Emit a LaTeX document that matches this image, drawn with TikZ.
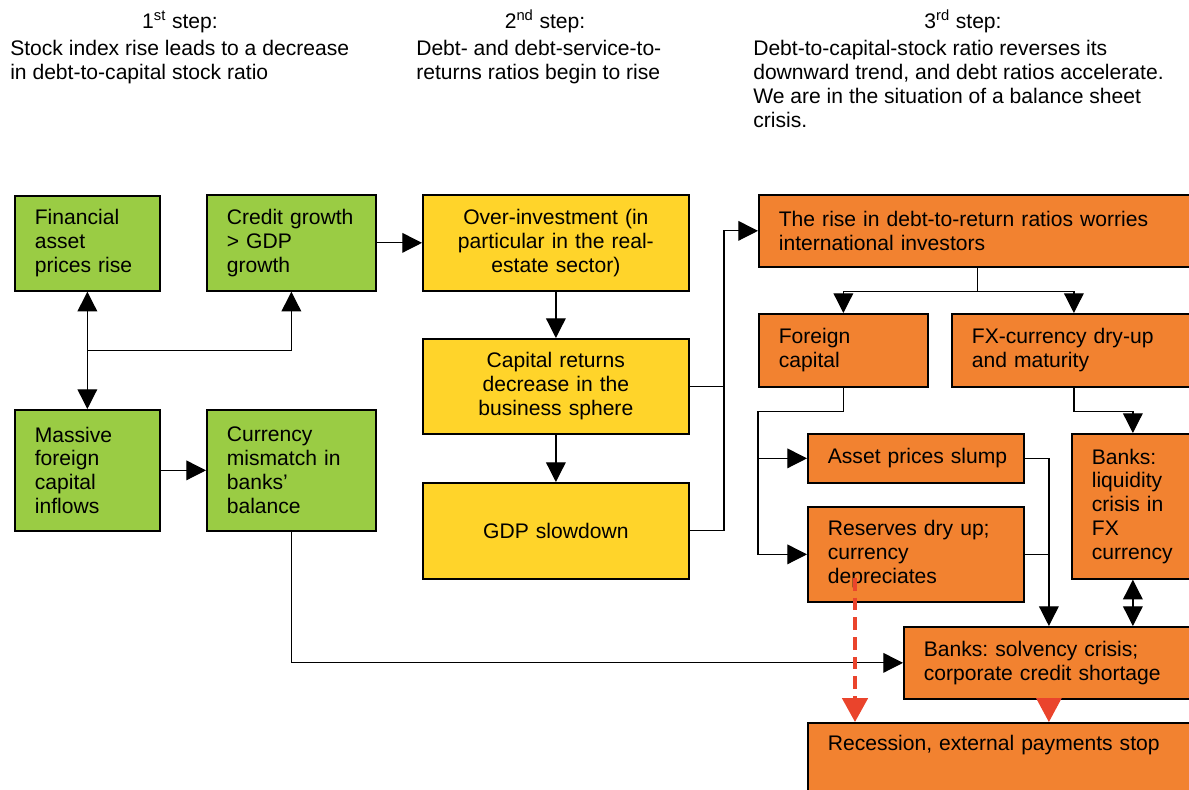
\documentclass[tikz,border=0pt]{standalone}
\usepackage{fontspec}
\setmainfont{Liberation Sans}
\frenchspacing
\usetikzlibrary{arrows.meta,calc}
\definecolor{stepgreen}{RGB}{154,204,68}
\definecolor{stepyellow}{RGB}{255,212,42}
\definecolor{steporange}{RGB}{242,130,48}
\definecolor{stepred}{RGB}{234,68,44}
\tikzset{
  box/.style={draw=black, line width=1.2pt, anchor=north west, inner xsep=0.5cm,
    inner ysep=0pt, align=left, font=\fontsize{15}{17}\selectfont},
  greenbox/.style={box, fill=stepgreen},
  yellowbox/.style={box, fill=stepyellow, align=center},
  orangebox/.style={box, fill=steporange},
  steptitle/.style={anchor=base, inner sep=0pt, font=\fontsize{15}{17}\selectfont},
  steptext/.style={anchor=north west, inner sep=0pt, align=left, font=\fontsize{15}{17}\selectfont},
  link/.style={line width=0.9pt, >={Triangle[length=14pt,width=14pt]}},
  reddash/.style={draw=stepred, line width=2.6pt, dash pattern=on 9pt off 5pt,
    -{Triangle[length=17pt,width=18pt,fill=stepred]}},
  redtip/.style={draw=stepred, line width=1pt, -{Triangle[length=17pt,width=18pt,fill=stepred]}}
}
\begin{document}
\begin{tikzpicture}[x=0.025cm,y=-0.025cm]
  \useasboundingbox (0,0) rectangle (1189,789);
  \node[steptitle] (s1) at (180,28) {1\textsuperscript{st} step:};
  \node[steptext] (t1) at (10,40) {Stock index rise leads to a decrease\\in debt-to-capital stock ratio};
  \node[steptitle] (s2) at (545,28) {2\textsuperscript{nd} step:};
  \node[steptext] (t2) at (416,40) {Debt- and debt-service-to-\\returns ratios begin to rise};
  \node[steptitle] (s3) at (963,28) {3\textsuperscript{rd} step:};
  \node[steptext] (t3) at (753,40) {Debt-to-capital-stock ratio reverses its\\downward trend, and debt ratios accelerate.\\We are in the situation of a balance sheet\\crisis.};

  \node[greenbox, text width=2.625cm, minimum height=2.375cm] (fin) at (14,195) {Financial\\asset\\prices rise};
  \node[greenbox, text width=3.225cm, minimum height=2.4cm] (cred) at (206,194) {Credit growth\\> GDP\\growth};
  \node[greenbox, text width=2.625cm, minimum height=3.025cm] (mass) at (14,409) {Massive\\foreign\\capital\\inflows};
  \node[greenbox, text width=3.225cm, minimum height=3.025cm] (curr) at (206,409) {Currency\\mismatch in\\banks'\\balance};

  \node[yellowbox, text width=5.65cm, minimum height=2.4cm] (over) at (422,194) {Over-investment (in\\particular in the real-\\estate sector)};
  \node[yellowbox, text width=5.65cm, minimum height=2.375cm] (capr) at (422,338) {Capital returns\\decrease in the\\business sphere};
  \node[yellowbox, text width=5.65cm, minimum height=2.4cm] (gdp) at (422,482) {GDP slowdown};

  \node[orangebox, text width=9.925cm, minimum height=1.8cm] (rise) at (758,194) {The rise in debt-to-return ratios worries\\international investors};
  \node[orangebox, text width=3.225cm, minimum height=1.825cm] (forc) at (758,313) {Foreign\\capital};
  \node[orangebox, text width=5.1cm, minimum height=1.825cm] (fx) at (951,313) {FX-currency dry-up\\and maturity};
  \node[orangebox, text width=4.4cm, minimum height=1.225cm] (slump) at (807,433) {\mbox{Asset prices slump}};
  \node[orangebox, text width=4.4cm, minimum height=2.375cm] (res) at (807,506) {Reserves dry up;\\currency\\depreciates};
  \node[orangebox, text width=2.05cm, minimum height=3.625cm] (liq) at (1071,433) {Banks:\\liquidity\\crisis in\\FX\\currency};
  \node[orangebox, text width=6.25cm, minimum height=1.8cm] (solv) at (903,626) {Banks: solvency crisis;\\corporate credit shortage};
  \node[orangebox, text width=8.775cm, text height=0.7cm, text depth=1.5cm] (rec) at (807,722) {Recession, external payments stop};

  \begin{scope}[link]
    \draw[->] (cred.east) -- (over.west);
    \draw[<->] (fin.south) -- (mass.north);
    \coordinate (fork) at ($(fin.south)!0.5!(mass.north)$);
    \draw[->] (fork) -| (cred.south);
    \draw[->] (mass.east) -- (curr.west);
    \draw[->] (curr.south) |- (solv.west);
    \draw[->] (over) -- (capr);
    \draw[->] (capr) -- (gdp);
    \coordinate (bus) at ($(gdp.east)!0.5!(rise.west)$);
    \draw[->] (gdp.east) -| (bus) |- (rise.west);
    \draw (capr.east) -- (capr.east -| bus);
    \draw[->] (rise.south) -- ++(0,24) -| (forc.north);
    \draw[->] (rise.south) -- ++(0,24) -| (fx.north);
    \draw[->] (forc.south) -- ++(0,24) -| (forc.west |- res.west) -- (res.west);
    \draw[->] (forc.west |- slump.west) -- (slump.west);
    \draw[->] (fx.south) -- ++(0,24) -| (liq.north);
    \draw[->] (slump.east) -| (solv.north);
    \draw (res.east) -- (res.east -| solv.north);
    \draw[<->] (liq.south) -- (liq.south |- solv.north);
    \coordinate (dep) at (855,578);
    \draw[reddash] (dep) -- (dep |- rec.north);
    \draw[redtip] (solv.south) -- (solv.south |- rec.north);
  \end{scope}
\end{tikzpicture}
\end{document}
